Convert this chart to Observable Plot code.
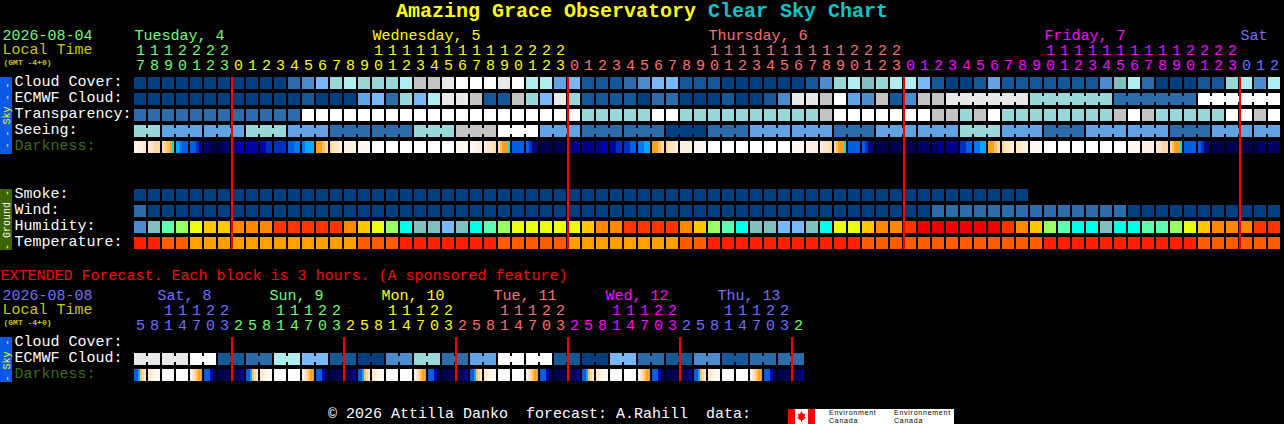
<!DOCTYPE html>
<html><head><meta charset="utf-8">
<script src="https://cdn.jsdelivr.net/npm/d3@7"></script>
<script src="https://cdn.jsdelivr.net/npm/@observablehq/plot@0.6"></script>
<style>
html,body{margin:0;padding:0;background:#000;width:1284px;height:424px;overflow:hidden}
#wrap{position:relative;width:1284px;height:424px;font-family:"Liberation Mono",monospace}
#wrap svg{position:absolute;left:0;top:0;display:block}
.bar{position:absolute;left:0;width:12px}
#title{position:absolute;left:0;top:0;width:1284px;text-align:center;font:bold 20px/24px "Liberation Mono",monospace;color:#ffff00;white-space:pre}
#title span{color:#00c8c8}
#foot{position:absolute;left:328px;top:406px;font:15px/18px "Liberation Mono",monospace;color:#fff;white-space:pre}
#logo{position:absolute;left:788px;top:409px;width:166px;height:15px;background:#fff;overflow:hidden;color:#000;font:7px/7px "Liberation Sans",sans-serif;letter-spacing:.75px}
#logo i{position:absolute;font-style:normal;white-space:pre}
</style></head><body>
<div id="wrap">
<div class="bar" style="top:77px;height:77px;background:#0a5ae6"></div>
<div class="bar" style="top:189px;height:61px;background:#3c6400"></div>
<div class="bar" style="top:337px;height:45px;background:#0a5ae6"></div>
<div id="title">Amazing Grace Observatory <span>Clear Sky Chart</span></div>
<div id="foot">© 2026 Attilla Danko  forecast: A.Rahill  data:</div>
<div id="logo">
<svg width="27" height="15" viewBox="0 0 27 15" style="left:0;top:0"><rect width="27" height="15" fill="#fff"/><rect width="7" height="15" fill="#f00"/><rect x="20" width="7" height="15" fill="#f00"/><polygon points="13.5,2 15,5 17,4.5 16.5,8 18,8.5 15,11 14,11 14,13 13,13 13,11 12,11 9,8.5 10.5,8 10,4.5 12,5" fill="#f00"/></svg>
<i style="left:41px;top:0">Environment</i><i style="left:41px;top:7.5px">Canada</i>
<i style="left:106px;top:0">Environnement</i><i style="left:106px;top:7.5px">Canada</i>
</div>
</div>
<script>
// ---- values (level indexes into the palettes below)
const skyPalette = ["#003f7f","#14589a","#2c6cab","#4b8bce","#62a3e6","#78b8f8","#80bfbf","#98d8d8","#aeeeee","#c3c3c3","#e9e9e9","#ffffff"];
const humidityPalette = ["#4b8bce","#78b8f8","#82bfbf","#00ffe6","#5cffb0","#99ff66","#eaff14","#ffc800","#ff8800","#ff3300","#ee0000"];
const temperaturePalette = ["#ff2000","#ff5c00","#ffa000"];
const darknessPalette = ["#ffffff","#fff8f0","#fff0e0","#ffe6c8","#ffd8a4","#ffc070","#ffa020","#00e0e0","#00a8ff","#0078f0","#0060e0","#0030c0","#0000a8","#00008c","#000068","#000050"];

const hours = [17,18,19,20,21,22,23,
 0,1,2,3,4,5,6,7,8,9,10,11,12,13,14,15,16,17,18,19,20,21,22,23,
 0,1,2,3,4,5,6,7,8,9,10,11,12,13,14,15,16,17,18,19,20,21,22,23,
 0,1,2,3,4,5,6,7,8,9,10,11,12,13,14,15,16,17,18,19,20,21,22,23,
 0,1,2];
const extHours = [5,8,11,14,17,20,23,
 2,5,8,11,14,17,20,23, 2,5,8,11,14,17,20,23, 2,5,8,11,14,17,20,23,
 2,5,8,11,14,17,20,23, 2,5,8,11,14,17,20,23, 2];
const dayColors = ["#70ff70","#ffff00","#ff7070","#ff00ff","#7070ff"];
const extDayColors = ["#7070ff","#70ff70","#ffff00","#ff7070","#ff00ff","#7070ff","#70ff70"];
const dayLabels = ["Tuesday, 4","Wednesday, 5","Thursday, 6","Friday, 7","Sat"];
const dayLabelCols = [0,17,41,65,79];
const extDayLabels = ["Sat, 8","Sun, 9","Mon, 10","Tue, 11","Wed, 12","Thu, 13"];
const extDayLabelCols = [1.65,9.65,17.65,25.65,33.65,41.65];

const cloudCover = [0,0,0,0,0,0,0,0,0,0,
 0,2,3,5,7,8,7,7,7,8,
 9,9,10,11,11,11,10,11,8,8,
 4,5,1,1,1,2,3,5,5,1,
 1,1,0,0,0,0,0,0,1,3,
 7,8,6,7,8,8,5,1,0,0,
 1,4,1,1,1,1,1,1,1,3,
 6,8,2,0,0,0,1,1,7,8,3,8];
const ecmwfCloud = [0,0,0,0,0,0,0,0,0,0,
 0,0,1,0,0,0,4,5,2,7,
 5,8,10,10,9,1,1,9,7,5,
 10,7,1,1,1,1,0,2,2,0,
 0,0,1,0,0,1,3,10,10,9,
 11,4,3,9,1,3,9,9,10,10,
 10,10,10,10,7,7,7,7,7,7,
 2,2,2,2,2,2,11,11,11,11,11,11];
const transparency = [2,2,2,2,2,2,2,2,2,2,
 2,2,11,11,11,11,11,11,11,11,
 11,11,11,11,11,11,11,11,11,11,
 11,11,7,7,7,7,7,11,11,7,
 7,7,7,7,7,7,7,7,7,9,
 11,11,11,11,11,11,11,9,9,7,
 9,11,7,7,7,7,7,7,7,7,
 9,11,9,7,7,7,7,7,11,11,9,11];
const seeing = [7,7, 4,4,4, 4,4,4, 7,7,7, 4,4,4, 2,2,2, 2,2,2, 7,7,7, 9,9,9, 11,11,11,
 4,4,4, 2,2,2, 2,2,2, 0,0,0, 2,2,2, 4,4,4, 4,4,4, 2,2,2,
 4,4,4, 4,4,4, 7,7,7, 4,4,4, 2,2,2, 4,4,4, 4,4,4, 2,2,2, 4,4,4, 4,4];
const darkness = [
 [1,2,2,3],[3,3,4,4],[4,4,5,5,6,7],[8,9,10,10],[10,10,11,12],[14,15],[15,14],[13,12],[12],[12,11],
 [11],[10,10,9,9],[9,8,8,8],[6,6,5,4],[4,3,3,2],[2],[1],[0],[0],[0],
 [0],[0],[0],[1],[1,2],[2,3,3,4],[4,5,6,6,6,7],[10],[10,11,13,14],[15],
 [15],[14,13],[13],[13,12],[12,11],[11,10],[9,9,8,8],[6,6,5,4],[4,3,3,2],[2],
 [1],[0],[0],[0],[0],[0],[0],[1],[2],[2,3,3,4],
 [4,5,6,6,6,7],[10],[10,11,13,14],[15],[15],[15],[14],[14,13],[13],[11,11,10,10],
 [9,9,8,8],[6,6,5,4],[4,3,3,2],[3,2],[1],[0],[0],[0],[0],[0],
 [0],[1],[2],[3,3,4,4],[4,5,6,6,6,7],[10],[10,11,13,14],[15],[15],[15],
 [15,14],[14]];
const smoke = [0,0,0,0,0,0,0,0,0,0,0,0,0,0,0,0,0,0,0,0,0,0,0,0,0,0,0,0,0,0,0,0,
 0,0,0,0,0,0,0,0,0,0,0,0,0,0,0,0,0,0,0,0,0,0,0,0,0,0,0,0,0,0,0,0];
const wind = [2,0,0,0,0,0,0,0,0,0,0,0,0,0,0,0,0,0,0,0,
 0,0,0,0,0,0,0,0,0,0,0,0,0,0,0,0,0,0,0,0,
 0,0,0,0,0,0,0,0,0,0,0,0,0,0,0,0,0,2,2,2,
 2,2,2,2,2,2,2,2,2,2,2,0,0,0,0,0,0,0,0,0,0,0];
const humidity = [0,2,4,5,6,7,7,8,8,8,
 9,9,9,9,9,8,7,6,5,3,
 2,2,1,2,3,4,5,6,6,6,
 6,6,7,8,8,9,9,9,9,8,
 7,5,4,3,2,2,1,1,2,3,
 6,6,7,8,8,9,10,10,10,10,
 10,10,9,8,7,5,4,3,3,2,
 3,3,4,4,5,6,7,8,8,8,9,9];
const temperature = [0,0,1,1,2,2,2,2,2,2,
 2,2,2,2,2,2,1,1,1,0,
 0,0,0,0,0,0,1,1,1,1,
 1,2,2,2,2,2,2,2,2,1,
 1,0,0,0,0,0,0,0,0,0,
 0,0,1,1,1,1,1,1,1,1,
 1,1,1,1,1,0,0,0,0,0,
 0,0,0,0,0,0,1,1,1,1,1,1];
const extEcmwf = [10,10,11,1,2,8,5,1,0,3,7,2,4,11,11,1,0,5,2,1,3,1,2,2];
const extDarkness = [
 [10,10,8,5,4,3],[3,2,1,1],[0],[0],[2,3,4,5,6,6],[10,10,12,14],[15],[15,15,14,12],
 [10,10,8,5,4,3],[3,2,1,1],[0],[0],[2,3,4,5,6,6],[10,10,12,14],[15],[15,15,14,12],
 [10,10,8,5,4,3],[3,2,1,1],[0],[0],[2,3,4,5,6,6],[10,10,12,14],[15],[15,15,14,12],
 [10,10,8,5,4,3],[3,2,1,1],[0],[0],[2,3,4,5,6,6],[10,10,12,14],[15],[15,15,14,12],
 [10,10,8,5,4,3],[3,2,1,1],[0],[0],[2,3,4,5,6,6],[10,10,12,14],[15],[15,15,14,12],
 [10,10,8,5,4,3],[3,2,1,1],[0],[0],[2,3,4,5,6,6],[10,10,12,14],[15],[15,15,14,12]];
const midnightCols = [7,31,55,79];
const extMidnightCols = [7,15,23,31,39,47];
const mainLabels = ["Cloud Cover:","ECMWF Cloud:","Transparency:","Seeing:","Darkness:",null,null,"Smoke:","Wind:","Humidity:","Temperature:"];
const extLabels = ["Cloud Cover:","ECMWF Cloud:","Darkness:"];

// ---- chart
const CELL = 12/14;               // cell width in column units
const HIGH = 12/16;               // cell height in row units
const EXT = 16.25;                // row where the extended block begins

const colorDomain = [], colorRange = [];
const reg = (p, arr) => arr.forEach((c,i)=>{colorDomain.push(p+i);colorRange.push(c);});
reg("sky",skyPalette);reg("hum",humidityPalette);reg("tmp",temperaturePalette);reg("drk",darknessPalette);
reg("day",dayColors);reg("ext",extDayColors);
[["white","#ffffff"],["dim","#3c6e1e"],["amber","#c8c800"],["red","#ff0000"],["grn","#70ff70"],["blue","#7070ff"],["yel","#ffff00"]]
 .forEach(([k,c])=>{colorDomain.push(k);colorRange.push(c);});

const cells = [], bridges = [], strips = [];
const addRow = (vals,row,prefix,group) => vals.forEach((v,c)=>{
  cells.push({c,row,key:prefix+v});
  if (group && c+1<vals.length && group(c)!==null && group(c)===group(c+1)) bridges.push({c,row,key:prefix+v});
});
addRow(cloudCover,0,"sky");
addRow(ecmwfCloud,1,"sky",c=>c>=58?Math.floor((c-58)/6):null);
addRow(transparency,2,"sky");
addRow(seeing,3,"sky",c=>Math.floor((c+1)/3));
addRow(smoke,7,"sky");
addRow(wind,8,"sky");
addRow(humidity,9,"hum");
addRow(temperature,10,"tmp");
addRow(extEcmwf.flatMap(v=>[v,v]),EXT+1,"sky",c=>Math.floor(c/2));
const addStrip = (vals,row) => vals.forEach((parts,c)=>parts.forEach((v,s)=>{
  strips.push({x1:c+CELL*s/parts.length,x2:c+CELL*(s+1)/parts.length,row,key:"drk"+v});
}));
addStrip(darkness,4);
addStrip(extDarkness,EXT+2);

let d=0; const hourText=[];
hours.forEach((h,c)=>{ if(h===0) d++; const k="day"+d;
  if(h>=10) hourText.push({c,y:-1.69,t:String(Math.floor(h/10)),k});
  hourText.push({c,y:-0.75,t:String(h%10),k}); });
let e=0; extHours.forEach((h,c)=>{ if(c>0&&h<extHours[c-1]) e++; const k="ext"+e;
  if(h>=10) hourText.push({c,y:14.56,t:String(Math.floor(h/10)),k});
  hourText.push({c,y:15.5,t:String(h%10),k}); });

const labelRows = [
  ...mainLabels.map((t,i)=>({t,y:i+0.375,k:t==="Darkness:"?"dim":"white"})).filter(d=>d.t),
  ...extLabels.map((t,i)=>({t,y:EXT+i+0.375,k:t==="Darkness:"?"dim":"white"}))
];
const mono = "Liberation Mono";
const sideTexts = [
  {t:"2026-08-04",y:-2.66,k:"grn"},{t:"Local Time",y:-1.75,k:"amber"},
  {t:"2026-08-08",y:13.59,k:"blue"},{t:"Local Time",y:14.5,k:"amber"}
];
const gmtTexts = [{t:"(GMT -4+0)",y:-0.95},{t:"(GMT -4+0)",y:15.3}];
const barTexts = [
 {t:"- - Sky - -",y:2.375,k:"yel"},{t:"- Ground -",y:8.9,k:"white"},{t:"- Sky -",y:EXT+1.44,k:"yel"}
];
const days = [
 ...dayLabels.map((t,i)=>({t,c:dayLabelCols[i],y:-2.66,k:"day"+i})),
 ...extDayLabels.map((t,i)=>({t,c:extDayLabelCols[i],y:13.59,k:"ext"+i}))
];

const chart = Plot.plot({
  width:1284,height:424,margin:0,
  style:{background:"transparent"},
  x:{domain:[-134/14,(1284-134)/14],range:[0,1284],axis:null},
  y:{domain:[-77/16,(424-77)/16],range:[0,424],axis:null},
  color:{type:"ordinal",domain:colorDomain,range:colorRange},
  marks:[
    Plot.rect(cells,{x1:"c",x2:d=>d.c+CELL,y1:"row",y2:d=>d.row+HIGH,fill:"key",shapeRendering:"crispEdges"}),
    Plot.rect(bridges,{x1:d=>d.c+CELL,x2:d=>d.c+1,y1:d=>d.row+3/16,y2:d=>d.row+9/16,fill:"key",shapeRendering:"crispEdges"}),
    Plot.rect(strips,{x1:"x1",x2:"x2",y1:"row",y2:d=>d.row+HIGH,fill:"key",shapeRendering:"crispEdges"}),
    Plot.rect(midnightCols,{x1:d=>d-1/14,x2:d=>d+1/14,y1:0,y2:11-4/16,fill:"#ff0000"}),
    Plot.rect(extMidnightCols,{x1:d=>d-1/14,x2:d=>d+1/14,y1:EXT,y2:EXT+2+HIGH,fill:"#ff0000"}),
    Plot.text(hourText,{x:d=>d.c+CELL/2,y:"y",text:"t",fill:"k",fontFamily:mono,fontSize:15}),
    Plot.text(days,{x:"c",y:"y",text:"t",fill:"k",textAnchor:"start",fontFamily:mono,fontSize:15}),
    Plot.text(labelRows,{y:"y",text:"t",fill:"k",frameAnchor:"left",dx:14,dy:-2,textAnchor:"start",fontFamily:mono,fontSize:15}),
    Plot.text(sideTexts,{y:"y",text:"t",fill:"k",frameAnchor:"left",dx:2,textAnchor:"start",fontFamily:mono,fontSize:15}),
    Plot.text(gmtTexts,{y:"y",text:"t",fill:"#c8c800",frameAnchor:"left",dx:3,textAnchor:"start",fontFamily:mono,fontSize:8,fontWeight:"bold"}),
    Plot.text(barTexts,{y:"y",text:"t",fill:"k",frameAnchor:"left",dx:6,textAnchor:"middle",rotate:-90,fontFamily:mono,fontSize:10}),
    Plot.text(["EXTENDED Forecast. Each block is 3 hours. (A sponsored feature)"],{y:12.38,text:d=>d,fill:"#ff0000",frameAnchor:"left",textAnchor:"start",fontFamily:mono,fontSize:15})
  ]
});
document.getElementById("wrap").insertBefore(chart,document.getElementById("title"));
</script>
</body></html>
